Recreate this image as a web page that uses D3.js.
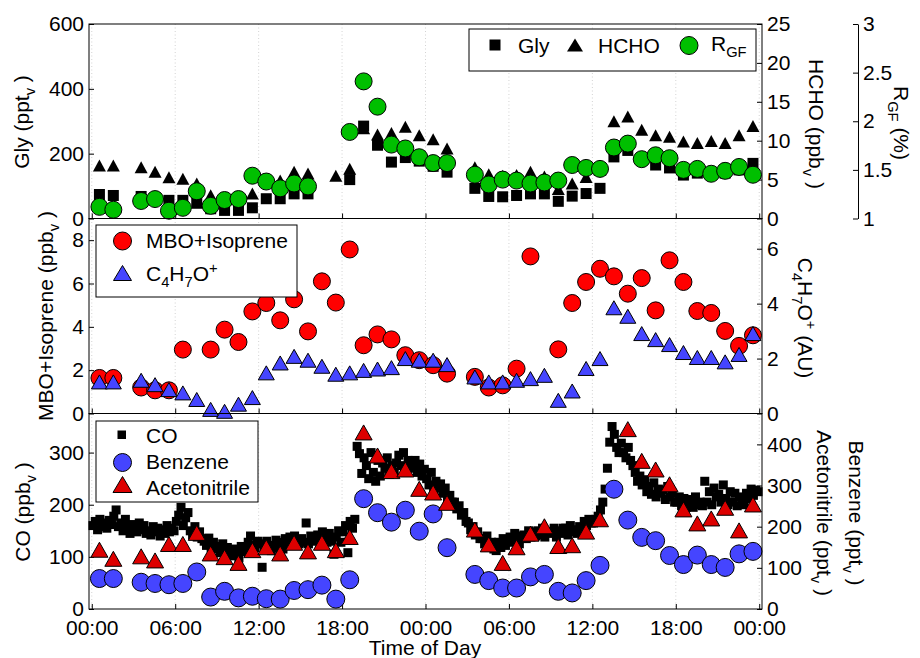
<!DOCTYPE html>
<html>
<head>
<meta charset="utf-8">
<title>Time of Day</title>
<script src="https://cdn.jsdelivr.net/npm/d3@7"></script>
<style>
	body { margin: 0; background: #fff; }
	svg text { font-family: "Liberation Sans", Arial, sans-serif; fill: #000; }
</style>
</head>
<body>
<svg id="chart" width="920" height="658"></svg>
<script>
// hourly samples, one per hour of the 48 h record (null = no data)
var hours = d3.range(48).map(function(k) { return k + 0.55; });

var gly = [74, 71, null, 68, 60, 56, 56, 47, 30, 25, 25, 33, 61, 61, 76, 76, null, null, 120, 285, 226, 174, 188, 177,
	161, 143, null, 93, 68, 67, 71, 76, 76, 53, 69, 77, 93, 190, 210, 180, 165, 156, 134, 140, 140, 140, 150, 170];
var hcho = [6.8, 6.8, null, 6.6, 6.0, 5.3, 5.1, 4.5, 3.0, 2.6, 2.8, 3.2, 4.8, 4.9, 6.0, 5.8, null, 5.5, 6.4, 11.6, 10.8, 11.0, 11.8, 10.7,
	10.2, 9.0, null, 6.6, 5.7, 5.5, 5.6, 6.0, 5.4, 3.8, 4.5, 5.35, 6.3, 12.5, 13.1, 11.4, 10.7, 10.5, 9.9, 9.7, 9.95, 9.7, 10.7, 11.9];
var rgf = [1.12, 1.09, null, 1.18, 1.20, 1.08, 1.11, 1.28, 1.13, 1.19, 1.20, 1.44, 1.38, 1.31, 1.36, 1.33, null, null, 1.89, 2.41, 2.15, 1.76, 1.72, 1.63,
	1.57, 1.57, null, 1.45, 1.35, 1.40, 1.39, 1.36, 1.37, 1.39, 1.55, 1.52, 1.51, 1.73, 1.77, 1.61, 1.65, 1.62, 1.50, 1.51, 1.46, 1.49, 1.53, 1.45];

var mbo = [1.64, 1.64, null, 1.20, 1.07, 1.07, 2.95, null, 2.95, 3.87, 3.30, 4.71, 5.10, 4.30, 5.27, 3.79, 6.10, 5.12, 7.57, 3.15, 3.65, 3.42, 2.69, 2.46,
	2.23, 1.84, null, 1.69, 1.20, 1.30, 2.07, 7.25, null, 2.96, 5.10, 6.07, 6.68, 6.33, 5.53, 6.25, 4.76, 7.07, 6.07, 4.73, 4.64, 3.81, 3.12, 3.61];
var c4h7o = [1.15, 1.15, null, 1.21, 1.05, 0.87, 0.75, 0.51, 0.15, 0.08, 0.34, 0.58, 1.48, 1.84, 2.08, 1.94, 1.72, 1.43, 1.48, 1.57, 1.62, 1.67, 2.0, 1.94,
	1.94, 1.78, null, 1.33, 1.15, 1.15, 1.21, 1.27, 1.39, 0.48, 0.82, 1.64, 2.0, 3.85, 3.54, 2.91, 2.69, 2.51, 2.22, 2.04, 2.04, 1.88, 2.15, 2.91];

var benzene = [74, 74, null, 65, 62, 59, 62, 90, 29, 43, 27, 31, 25, 24, 45, 47, 58, 24, 71, 268, 234, 211, 240, 189,
	231, 149, null, 84, 69, 51, 51, 78, 84, 43, 39, 69, 106, 291, 216, 174, 166, 130, 108, 131, 108, 101, 134, 140];
var acetonitrile = [144, 122, null, 128, 118, 158, 158, 185, 135, 126, 112, 143, 150, 135, 161, 140, 161, 143, 175, 429, 373, 335, 339, 292,
	283, 258, null, 193, 157, 112, 150, 183, 201, 153, 155, 188, 218, null, 437, 360, 339, 303, 242, 208, 220, 246, 191, 254];

// CO, 10 min record (6 values per hour)
var coTimes = d3.range(288).map(function(i) { return i / 6 + 1 / 12; });
var co = [
	160, 168, 152, 172, 158, 165,   155, 170, 162, 178, 190, 158,   165, 150, 172, 158, 145, 162,   155, 148, 165, 152, 160, 145,
	150, 142, 158, 148, 155, 140,   152, 145, 160, 148, 155, 150,   168, 180, 195, 160, 175, 185,   150, 142, 158, 138, 148, 135,
	130, 122, 136, 118, 128, 115,   120, 108, 125, 112, 118, 105,   102, 115, 108, 98, 120, 110,    115, 128, 140, 122, 118, 130,
	125, 80, 118, 130, 122, 112,    120, 132, 118, 128, 115, 135,   128, 138, 122, 140, 130, 125,   135, 128, 165, 125, 140, 132,
	130, 142, 125, 148, 135, 128,   145, 130, 105, 138, 150, 128,   148, 160, 108, 168, 155, 172,   312, 298, 260, 290, 275, 250,
	300, 262, 245, 285, 255, 280,   270, 290, 258, 275, 262, 280,   295, 275, 300, 268, 285, 278,   270, 285, 262, 278, 255, 268,
	250, 238, 262, 228, 245, 232,   240, 222, 232, 210, 218, 205,   205, 192, 198, 180, 185, 168,   165, 152, 158, 142, 148, 135,
	135, 125, 140, 118, 128, 115,   112, 128, 118, 135, 122, 130,   138, 128, 145, 132, 125, 140,   142, 135, 150, 138, 148, 140,
	150, 142, 155, 138, 148, 145,   148, 155, 138, 150, 145, 155,   155, 142, 160, 148, 152, 145,   158, 150, 168, 160, 172, 165,
	165, 172, 178, 190, 205, 230,   270, 320, 350, 335, 310, 300,   318, 300, 290, 310, 285, 275,   262, 245, 255, 238, 248, 225,
	235, 220, 242, 215, 230, 222,   228, 210, 235, 215, 222, 205,   205, 215, 198, 212, 195, 208,   210, 195, 215, 200, 205, 198,
	245, 205, 225, 200, 232, 215,   220, 205, 238, 212, 200, 225,   205, 222, 198, 215, 210, 200,   222, 212, 230, 218, 228, 225
];

var xTicks = [0, 6, 12, 18, 24, 30, 36, 42, 48];
var xTickLabels = ['00:00', '06:00', '12:00', '18:00', '00:00', '06:00', '12:00', '18:00', '00:00'];

var glyTicks = [0, 200, 400, 600], hchoTicks = [0, 5, 10, 15, 20, 25], rgfTicks = [1, 1.5, 2, 2.5, 3];
var mboTicks = [0, 2, 4, 6, 8], c4Ticks = [0, 2, 4, 6];
var coTicks = [0, 100, 200, 300], vocTicks = [0, 100, 200, 300, 400];

var FS = 21;
var green = '#00bf00', red = '#ff0000', darkRed = '#dd0000', blue = '#4545ff';

var svg = d3.select('#chart');
var x = d3.scaleLinear().domain([-0.2, 48.2]).range([89, 762]);

var panels = [
	{ top: 24, bottom: 218.5 },
	{ top: 218.5, bottom: 413.5 },
	{ top: 413.5, bottom: 609 }
];

var yGly = d3.scaleLinear().domain([0, 600]).range([panels[0].bottom, panels[0].top]);
var yHcho = d3.scaleLinear().domain([0, 25]).range([panels[0].bottom, panels[0].top]);
var yRgf = d3.scaleLinear().domain([1, 3]).range([panels[0].bottom, panels[0].top]);
var yMbo = d3.scaleLinear().domain([0, 9]).range([panels[1].bottom, panels[1].top]);
var yC4 = d3.scaleLinear().domain([0, 7.1]).range([panels[1].bottom, panels[1].top]);
var yCo = d3.scaleLinear().domain([0, 375]).range([panels[2].bottom, panels[2].top]);
var yVoc = d3.scaleLinear().domain([0, 475]).range([panels[2].bottom, panels[2].top]);

// text with sub/superscripts: parts = [[text, 'n'|'sub'|'sup'], ...]
function rich(t, parts) {
	var shift = 0;
	parts.forEach(function(p) {
		var target = p[1] === 'sub' ? 6 : p[1] === 'sup' ? -8 : 0;
		var ts = t.append('tspan').text(p[0]).attr('dy', target - shift);
		if (p[1] !== 'n') ts.attr('font-size', FS * 0.7);
		shift = target;
	});
	return t;
}

function tri(w, h) {
	return 'M0,' + (-h / 2) + 'L' + (w / 2) + ',' + (h / 2) + 'L' + (-w / 2) + ',' + (h / 2) + 'Z';
}

function points(ts, vals, y, shape, size, fill, stroke) {
	var data = ts.map(function(t, i) { return { t: t, v: vals[i] }; })
		.filter(function(d) { return d.v !== null; });
	var g = svg.append('g');
	var sel = g.selectAll('.m').data(data).enter();
	if (shape === 'circle') {
		sel.append('circle')
			.attr('cx', function(d) { return x(d.t); })
			.attr('cy', function(d) { return y(d.v); })
			.attr('r', size)
			.attr('fill', fill).attr('stroke', stroke).attr('stroke-width', 1);
	} else if (shape === 'square') {
		sel.append('rect')
			.attr('x', function(d) { return x(d.t) - size / 2; })
			.attr('y', function(d) { return y(d.v) - size / 2; })
			.attr('width', size).attr('height', size)
			.attr('fill', fill);
	} else {
		sel.append('path')
			.attr('d', tri(size[0], size[1]))
			.attr('transform', function(d) { return 'translate(' + x(d.t) + ',' + y(d.v) + ')'; })
			.attr('fill', fill).attr('stroke', stroke).attr('stroke-width', 1);
	}
}

function styleAxis(g) {
	g.attr('font-size', FS).attr('font-family', null);
	g.selectAll('.tick line').attr('stroke', '#000');
	g.selectAll('text').attr('fill', '#000');
}

// grid, frames and axes
panels.forEach(function(p, i) {
	svg.append('g').selectAll('line').data(xTicks).enter().append('line')
		.attr('x1', function(d) { return x(d); }).attr('x2', function(d) { return x(d); })
		.attr('y1', p.top).attr('y2', p.bottom)
		.attr('stroke', '#c8c8c8').attr('stroke-width', 0.8).attr('stroke-dasharray', '1,2.5');

	var xa = d3.axisBottom(x).tickValues(xTicks).tickSizeInner(-5).tickSizeOuter(0).tickPadding(11)
		.tickFormat(function(d, j) { return i === 2 ? xTickLabels[j] : ''; });
	svg.append('g').attr('transform', 'translate(0,' + p.bottom + ')').call(xa).call(styleAxis)
		.select('.domain').remove();
});

var leftAxes = [[yGly, glyTicks], [yMbo, mboTicks], [yCo, coTicks]];
var rightAxes = [[yHcho, hchoTicks], [yC4, c4Ticks], [yVoc, vocTicks]];

leftAxes.forEach(function(a) {
	svg.append('g').attr('transform', 'translate(89,0)')
		.call(d3.axisLeft(a[0]).tickValues(a[1]).tickSizeInner(-5).tickSizeOuter(0).tickPadding(5))
		.call(styleAxis).select('.domain').remove();
});
rightAxes.forEach(function(a) {
	svg.append('g').attr('transform', 'translate(762,0)')
		.call(d3.axisRight(a[0]).tickValues(a[1]).tickSizeInner(-5).tickSizeOuter(0).tickPadding(5))
		.call(styleAxis).select('.domain').remove();
});

var rg = svg.append('g').attr('transform', 'translate(858,0)')
	.call(d3.axisRight(yRgf).tickValues(rgfTicks).tickSizeInner(-5).tickSizeOuter(0).tickPadding(5)
		.tickFormat(function(d) { return String(d); }))
	.call(styleAxis);
rg.select('.domain').attr('stroke', '#000');

// panel 1: Gly, HCHO, R_GF
points(hours, hcho, yHcho, 'tri', [13, 12], '#000', 'none');
points(hours, gly, yGly, 'square', 11, '#000');
points(hours, rgf, yRgf, 'circle', 8.5, green, '#000');

// panel 2: MBO+Isoprene, C4H7O+
points(hours, mbo, yMbo, 'circle', 8.5, red, '#000');
points(hours, c4h7o, yC4, 'tri', [16, 14], blue, '#000');

// panel 3: CO, benzene, acetonitrile
points(coTimes, co, yCo, 'square', 9, '#000');
points(hours, benzene, yVoc, 'circle', 9, blue, '#000');
points(hours, acetonitrile, yVoc, 'tri', [17, 15], darkRed, '#000');

panels.forEach(function(p) {
	svg.append('rect').attr('x', 89).attr('y', p.top).attr('width', 762 - 89).attr('height', p.bottom - p.top)
		.attr('fill', 'none').attr('stroke', '#000').attr('stroke-width', 1);
});

// legends
function legendBox(x0, y0, w, h) {
	svg.append('rect').attr('x', x0).attr('y', y0).attr('width', w).attr('height', h)
		.attr('fill', '#fff').attr('stroke', '#000').attr('stroke-width', 1);
}
function legendText(x0, y0, parts) {
	rich(svg.append('text').attr('x', x0).attr('y', y0).attr('font-size', FS), parts);
}

legendBox(469, 29, 287, 42);
svg.append('rect').attr('x', 489.5).attr('y', 39.5).attr('width', 11).attr('height', 11).attr('fill', '#000');
legendText(518, 53, [['Gly', 'n']]);
svg.append('path').attr('d', tri(16, 13)).attr('transform', 'translate(575,45)').attr('fill', '#000');
legendText(598, 53, [['HCHO', 'n']]);
svg.append('circle').attr('cx', 689).attr('cy', 45.5).attr('r', 9).attr('fill', green).attr('stroke', '#000');
legendText(711, 51, [['R', 'n'], ['GF', 'sub']]);

legendBox(96, 225, 201, 72);
svg.append('circle').attr('cx', 122.5).attr('cy', 241).attr('r', 9).attr('fill', red).attr('stroke', '#000');
legendText(146, 248, [['MBO+Isoprene', 'n']]);
svg.append('path').attr('d', tri(18, 15)).attr('transform', 'translate(122.5,273)').attr('fill', blue).attr('stroke', '#000');
legendText(146, 281, [['C', 'n'], ['4', 'sub'], ['H', 'n'], ['7', 'sub'], ['O', 'n'], ['+', 'sup']]);

legendBox(96, 421, 162, 81);
svg.append('rect').attr('x', 117.5).attr('y', 430.5).attr('width', 8.5).attr('height', 8.5).attr('fill', '#000');
legendText(146, 443, [['CO', 'n']]);
svg.append('circle').attr('cx', 122.5).attr('cy', 462.5).attr('r', 9).attr('fill', blue).attr('stroke', '#000');
legendText(146, 469, [['Benzene', 'n']]);
svg.append('path').attr('d', tri(19, 16)).attr('transform', 'translate(122.5,484.5)').attr('fill', darkRed).attr('stroke', '#000');
legendText(146, 495, [['Acetonitrile', 'n']]);

// axis titles
function title(cx, cy, rot, parts) {
	rich(svg.append('text').attr('text-anchor', 'middle').attr('font-size', FS)
		.attr('transform', 'translate(' + cx + ',' + cy + ') rotate(' + rot + ')'), parts);
}
title(29, 122, -90, [['Gly (ppt', 'n'], ['v', 'sub'], [' )', 'n']]);
title(53, 316, -90, [['MBO+Isoprene (ppb', 'n'], ['v', 'sub'], [' )', 'n']]);
title(30, 512, -90, [['CO (ppb', 'n'], ['v', 'sub'], [' )', 'n']]);
title(809, 124, 90, [['HCHO (ppb', 'n'], ['v', 'sub'], [' )', 'n']]);
title(894, 123, 90, [['R', 'n'], ['GF', 'sub'], [' (%)', 'n']]);
title(798, 318, 90, [['C', 'n'], ['4', 'sub'], ['H', 'n'], ['7', 'sub'], ['O', 'n'], ['+', 'sup'], [' (AU)', 'n']]);
title(817, 513, 90, [['Acetonitrile (ppt', 'n'], ['v', 'sub'], [' )', 'n']]);
title(849, 513, 90, [['Benzene (ppt', 'n'], ['v', 'sub'], [' )', 'n']]);

svg.append('text').attr('x', 425).attr('y', 655).attr('text-anchor', 'middle').attr('font-size', FS).text('Time of Day');
</script>
</body>
</html>
